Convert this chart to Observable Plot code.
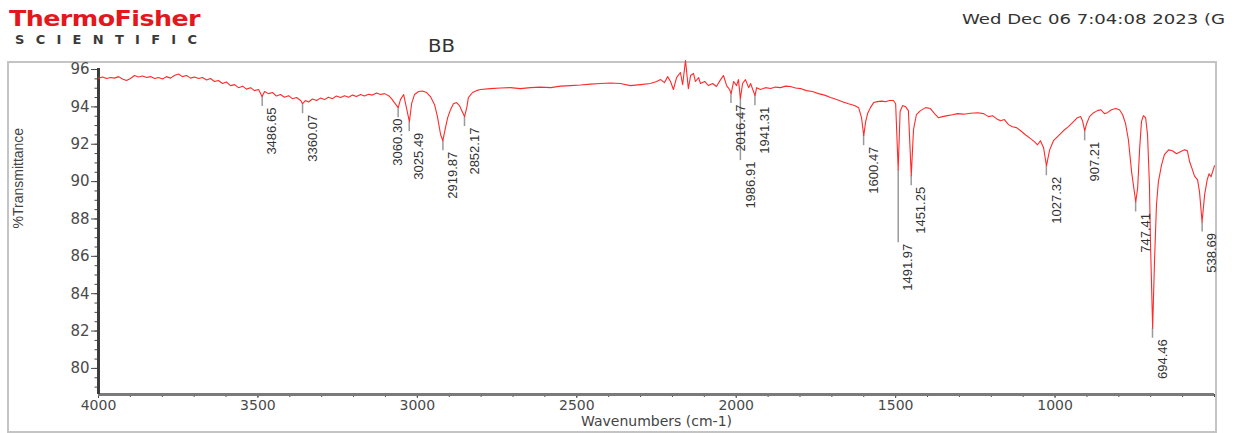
<!DOCTYPE html>
<html><head><meta charset="utf-8">
<script src="https://cdn.jsdelivr.net/npm/d3@7"></script>
<script src="https://cdn.jsdelivr.net/npm/@observablehq/plot@0.6"></script>
<style>
html,body{margin:0;padding:0;background:#fff;}
#wrap{position:relative;width:1237px;height:433px;overflow:hidden;background:#fff;}
.hdr{position:absolute;white-space:nowrap;transform-origin:0 0;}
#frame{position:absolute;left:7px;top:61px;width:1210px;height:372px;border:2px solid #c4c4c4;box-sizing:border-box;}
#chart{position:absolute;left:0;top:0;}
#logo{left:9px;top:9px;font:bold 22px/20px 'DejaVu Sans',sans-serif;color:#e4171c;letter-spacing:-0.5px;}
#sci{left:15px;top:33px;font:bold 13px/13px 'DejaVu Sans',sans-serif;color:#3a3a3a;}
#date{left:962px;top:12px;font:14px/14px 'DejaVu Sans',sans-serif;color:#333;}
#title{left:428px;top:38px;font:17px/17px 'DejaVu Sans',sans-serif;color:#333;}
</style></head><body>
<div id="wrap">
<div id="frame"></div>
<div id="chart"></div>
<div class="hdr" id="logo">ThermoFisher</div>
<div class="hdr" id="sci">SCIENTIFIC</div>
<div class="hdr" id="date">Wed Dec 06 7:04:08 2023 (G</div>
<div class="hdr" id="title">BB</div>
</div>
<script>
// ---- data ----
const wavenumbers = [
4000,3987,3975,3962,3950,3937,3925,3912,3900,3887,
3875,3862,3849,3837,3824,3812,3799,3787,3774,3762,
3749,3737,3724,3711,3699,3686,3674,3661,3649,3636,
3624,3611,3599,3586,3573,3561,3548,3536,3523,3511,
3498,3487,3479,3467,3454,3442,3429,3417,3404,3392,
3379,3366,3360,3351,3341,3329,3316,3304,3291,3279,
3266,3254,3241,3228,3216,3203,3191,3178,3166,3153,
3141,3128,3116,3103,3090,3081,3072,3060,3053,3043,
3037,3025,3018,3009,2996,2984,2971,2959,2946,2937,
2927,2920,2915,2905,2896,2887,2877,2868,2862,2852,
2845,2840,2827,2815,2802,2771,2739,2708,2677,2645,
2614,2582,2551,2520,2488,2457,2426,2394,2363,2332,
2300,2269,2250,2237,2225,2215,2206,2197,2187,2175,
2168,2159,2153,2150,2143,2134,2128,2118,2112,2099,
2087,2074,2062,2049,2040,2030,2021,2016,2008,1999,
1993,1987,1980,1971,1961,1955,1941,1936,1924,1908,
1892,1877,1861,1845,1830,1814,1798,1780,1761,1742,
1723,1704,1685,1667,1648,1629,1616,1607,1600,1594,
1588,1579,1569,1557,1544,1532,1519,1507,1500,1492,
1486,1478,1469,1460,1451,1444,1435,1422,1406,1391,
1378,1366,1353,1337,1322,1306,1287,1265,1243,1224,
1209,1196,1184,1171,1159,1146,1134,1121,1108,1093,
1077,1064,1055,1046,1036,1027,1017,1005,989,974,
958,942,930,920,914,907,901,892,879,867,
857,845,836,823,810,798,788,779,770,760,
747,741,735,729,723,716,710,704,701,694,
688,682,676,666,657,644,632,619,607,594,
585,578,569,563,553,547,539,531,523,517,
511,504,500];
const transmittance = [
95.54,95.60,95.52,95.57,95.54,95.62,95.49,95.41,95.52,95.68,
95.60,95.65,95.57,95.62,95.52,95.57,95.49,95.62,95.54,95.68,
95.76,95.62,95.68,95.54,95.60,95.52,95.57,95.44,95.52,95.36,
95.41,95.25,95.33,95.14,95.19,95.03,95.11,94.95,95.03,94.87,
94.93,94.55,94.82,94.71,94.77,94.58,94.66,94.52,94.60,94.44,
94.50,94.34,94.17,94.34,94.26,94.42,94.34,94.47,94.39,94.52,
94.44,94.58,94.50,94.60,94.52,94.63,94.55,94.66,94.58,94.68,
94.63,94.74,94.66,94.71,94.60,94.44,94.23,93.96,94.39,94.66,
94.17,93.21,94.17,94.66,94.82,94.85,94.77,94.55,94.12,93.48,
92.51,92.19,92.62,93.42,93.85,94.17,94.23,94.07,93.85,93.48,
93.96,94.50,94.77,94.87,94.93,94.98,95.01,95.03,94.98,95.03,
95.06,95.03,95.11,95.14,95.17,95.22,95.25,95.28,95.25,95.14,
95.19,95.25,95.36,95.46,95.30,95.62,95.36,94.93,95.57,95.84,
95.19,96.48,95.46,94.98,95.68,95.79,95.36,95.57,95.25,95.36,
95.14,95.25,95.09,95.46,95.68,95.14,94.93,94.71,95.36,95.14,
95.46,94.44,95.25,95.46,95.03,95.25,94.60,95.03,94.93,95.03,
94.98,95.06,95.03,95.11,95.09,95.01,94.98,94.87,94.82,94.71,
94.63,94.50,94.39,94.28,94.17,94.07,93.96,93.42,92.46,93.21,
93.64,93.96,94.23,94.28,94.31,94.28,94.34,94.34,94.17,90.63,
93.75,94.07,94.01,93.80,90.31,92.78,93.58,93.80,93.96,93.91,
93.64,93.42,93.48,93.53,93.58,93.64,93.61,93.66,93.69,93.64,
93.48,93.53,93.37,93.26,93.32,93.05,92.94,92.89,92.72,92.51,
92.30,92.13,91.97,92.19,91.81,90.85,91.70,92.19,92.46,92.72,
92.94,93.21,93.42,93.48,93.26,92.72,93.10,93.48,93.69,93.80,
93.85,93.64,93.69,93.85,93.91,93.85,93.58,93.10,92.24,90.52,
88.91,89.66,91.70,93.21,93.53,93.42,92.51,89.83,86.87,82.15,
85.80,88.75,89.99,90.90,91.44,91.70,91.65,91.49,91.60,91.70,
91.65,91.06,90.63,90.31,90.09,89.45,87.84,89.29,90.09,90.42,
90.26,90.63,90.85];

const peakWavenumbers = [3486.65,3360.07,3060.30,3025.49,2919.87,2852.17,2016.47,1986.91,1941.31,1600.47,1491.97,1451.25,1027.32,907.21,747.41,694.46,538.69];
const peakTransmittance = [94.55,94.17,93.96,93.21,92.19,93.48,94.71,94.44,94.60,92.46,90.63,90.31,90.85,92.72,88.91,82.15,87.84];
const peakLabels = ["3486.65","3360.07","3060.30","3025.49","2919.87","2852.17","2016.47","1986.91","1941.31","1600.47","1491.97","1451.25","1027.32","907.21","747.41","694.46","538.69"];
// labels that the instrument stacked below a neighbouring label
const stackedLabels = [["1986.91","2016.47"],["1491.97","1451.25"]];

const xTicks = [4000,3500,3000,2500,2000,1500,1000];
const xMinorTicks = d3.range(4000, 499, -100);
const yTicks = [80,82,84,86,88,90,92,94,96];
const yMinorTicks = d3.range(79, 96.01, 0.5);
const xDomain = [4000, 500];
const yDomain = [78.604, 96.376];

const W = 1237, H = 433, mL = 98, mR = 23, mT = 62, mB = 39;

// ---- build ----
const spectrum = wavenumbers.map((wn, i) => ({wn, t: transmittance[i]}));
const xs = Plot.scale({x: {domain: xDomain, range: [mL, W - mR]}});
const ys = Plot.scale({y: {domain: yDomain, range: [H - mB, mT]}});

const labelFont = "13px 'Liberation Sans', Arial, sans-serif";
const ctx = document.createElement("canvas").getContext("2d");
ctx.font = labelFont;

const peaks = peakWavenumbers.map((wn, i) => {
  const px = xs.apply(wn);
  return {wn, t: peakTransmittance[i], text: peakLabels[i], px,
          lx: px + 10, top: ys.apply(peakTransmittance[i]) + 11,
          len: ctx.measureText(peakLabels[i]).width};
});
const stackMap = new Map(stackedLabels);
const byText = new Map(peaks.map(p => [p.text, p]));
const placed = [];
peaks.filter(p => !stackMap.has(p.text)).sort((a, b) => a.wn - b.wn).forEach(p => {
  for (const q of placed) {
    const overlapV = p.top < q.top + q.len && q.top < p.top + p.len;
    if (Math.abs(q.lx - p.lx) < 13 && overlapV) p.lx = p.px;
  }
  placed.push(p);
});
peaks.filter(p => stackMap.has(p.text)).forEach(p => {
  const a = byText.get(stackMap.get(p.text));
  p.top = a.top + a.len + 10;
});
const leaders = peaks.map(p => ({wn: p.wn, t: p.t, end: ys.invert(p.top - 1)}));
const labels = peaks.map(p => ({x: xs.invert(p.lx), y: ys.invert(p.top), text: p.text}));

const axisColor = "#4a4a4a";
const chart = Plot.plot({
  width: W, height: H,
  marginLeft: mL, marginRight: mR, marginTop: mT, marginBottom: mB,
  x: {domain: xDomain},
  y: {domain: yDomain},
  style: {background: "transparent", fontFamily: "'DejaVu Sans', sans-serif", fontSize: "15px", color: "#444"},
  marks: [
    Plot.axisY({ticks: yMinorTicks, tickSize: 3.5, tickFormat: () => "", label: null, color: axisColor}),
    Plot.axisY({ticks: yTicks, tickSize: 7, tickPadding: 2, label: null, color: axisColor}),
    Plot.axisX({ticks: xMinorTicks, tickSize: 3, tickFormat: () => "", label: null, color: axisColor}),
    Plot.axisX({ticks: xTicks, tickSize: 4, tickPadding: 2, tickFormat: d => String(d), label: null, color: axisColor, fontSize: 14}),
    Plot.ruleY([{y: yDomain[0]}], {y: "y", stroke: "#7a7a7a", strokeWidth: 3}),
    Plot.ruleX([{x: xDomain[0], y1: yDomain[0], y2: 96.05}], {x: "x", y1: "y1", y2: "y2", stroke: "#3c3c3c", strokeWidth: 3}),
    Plot.ruleX(leaders, {x: "wn", y1: "t", y2: "end", stroke: "#9a9a9a", strokeWidth: 1.5}),
    Plot.line(spectrum, {x: "wn", y: "t", stroke: "#ff2b2b", strokeWidth: 1.1}),
    Plot.text(labels, {x: "x", y: "y", text: "text", rotate: -90, textAnchor: "end", lineAnchor: "middle",
      fontFamily: "'Liberation Sans', Arial, sans-serif", fontSize: 13, fill: "#333"}),
    Plot.text(["Wavenumbers (cm-1)"], {text: d => d, frameAnchor: "bottom", dy: 31, fontSize: 14, fill: "#444"}),
    Plot.text(["%Transmittance"], {text: d => d, frameAnchor: "left", dx: -80, rotate: -90,
      fontFamily: "'Liberation Sans', Arial, sans-serif", fontSize: 14, fill: "#444"})
  ]
});
document.getElementById("chart").appendChild(chart);

// ---- header texts fitted to the reference extents ----
function fitWidth(id, w) {
  const el = document.getElementById(id);
  const r = el.getBoundingClientRect().width;
  el.style.transform = `scaleX(${w / r})`;
}
function spreadLetters(id, w) {
  const el = document.getElementById(id);
  const r = el.getBoundingClientRect().width;
  const n = el.textContent.length;
  el.style.letterSpacing = ((w - r) / (n - 1)) + "px";
}
fitWidth("logo", 191);
spreadLetters("sci", 182);
fitWidth("date", 263);
fitWidth("title", 27);
</script>
</body></html>
